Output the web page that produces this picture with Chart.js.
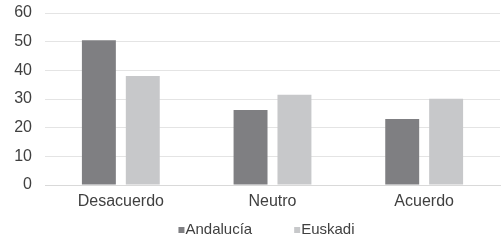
<!DOCTYPE html>
<html><head><meta charset="utf-8">
<script src="https://cdn.jsdelivr.net/npm/chart.js@4"></script>
<style>html,body{margin:0;padding:0;background:#fff}#w{width:503px;height:240px}</style>
</head><body><div id="w"><canvas id="c"></canvas></div>
<script>
const categories = ["Desacuerdo", "Neutro", "Acuerdo"];
const andalucia = [50.5, 26.2, 23.0];
const euskadi = [38.0, 31.5, 30.1];
const yTicks = [0, 10, 20, 30, 40, 50, 60];
const FONT = 'Liberation Sans, Arial, sans-serif';
const TXT = '#404040';

const legendPlugin = {
  id: 'customLegend',
  afterDraw(chart) {
    const ctx = chart.ctx;
    const items = chart.data.datasets;
    ctx.save();
    ctx.font = '15px ' + FONT;
    ctx.textBaseline = 'middle';
    ctx.textAlign = 'left';
    const box = 6, gapBox = 1, gapItem = 42;
    const widths = items.map(d => box + gapBox + ctx.measureText(d.label).width);
    const total = widths.reduce((a, b) => a + b, 0) + gapItem * (items.length - 1);
    const ca = chart.chartArea;
    const cx = (ca.left + ca.right) / 2 - 6;
    const cy = chart.height - 10;
    let x = cx - total / 2;
    items.forEach((d, i) => {
      ctx.fillStyle = d.backgroundColor;
      ctx.fillRect(x, cy - box / 2, box, box);
      ctx.fillStyle = TXT;
      ctx.fillText(d.label, x + box + gapBox, cy);
      x += widths[i] + gapItem;
    });
    ctx.restore();
  }
};

new Chart(document.getElementById('c'), {
  type: 'bar',
  data: {
    labels: categories,
    datasets: [
      {label: 'Andalucía', data: andalucia, backgroundColor: '#7f7f82'},
      {label: 'Euskadi', data: euskadi, backgroundColor: '#c7c8ca'}
    ]
  },
  options: {
    responsive: true, maintainAspectRatio: false, animation: false,
    layout: {padding: {top: 13, right: 3, left: 0, bottom: 29}},
    datasets: {bar: {categoryPercentage: 0.579, barPercentage: 0.773}},
    plugins: {
      tooltip: {enabled: false},
      legend: {display: false}
    },
    scales: {
      x: {
        afterFit: s => { s.height = 26; s.paddingLeft = 0; s.paddingRight = 0; },
        grid: {display: false, drawTicks: false},
        border: {color: '#d9d9d9'},
        ticks: {color: TXT, padding: 7, font: {family: FONT, size: 16}}
      },
      y: {
        min: 0, max: 60,
        afterBuildTicks: s => { s.ticks = yTicks.map(v => ({value: v})); },
        afterFit: s => { s.width = 45; s.paddingTop = 0; s.paddingBottom = 0; },
        grid: {color: '#e4e4e4', drawTicks: false},
        border: {display: false},
        ticks: {color: TXT, padding: 13, font: {family: FONT, size: 16}}
      }
    }
  },
  plugins: [legendPlugin]
});
</script>
</body></html>
